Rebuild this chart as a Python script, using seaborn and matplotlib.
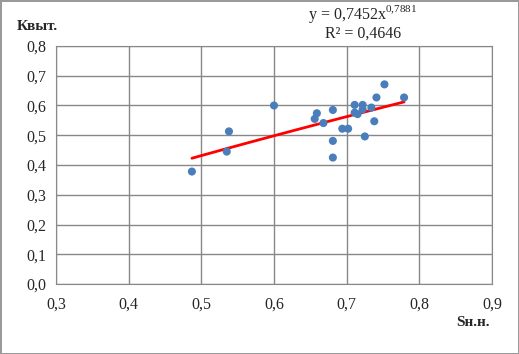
import numpy as np
import pandas as pd
import matplotlib.pyplot as plt
import seaborn as sns
from matplotlib.ticker import FuncFormatter, MultipleLocator

# data
s_nn = [0.487, 0.535, 0.538, 0.600, 0.659, 0.656, 0.668, 0.681, 0.681, 0.681,
        0.694, 0.702, 0.711, 0.711, 0.715, 0.722, 0.722, 0.725, 0.734, 0.738,
        0.741, 0.752, 0.779]
k_vyt = [0.378, 0.445, 0.513, 0.600, 0.574, 0.555, 0.541, 0.585, 0.481, 0.425,
         0.522, 0.522, 0.602, 0.576, 0.571, 0.602, 0.587, 0.496, 0.593, 0.547,
         0.627, 0.671, 0.627]
coef_a = 0.7452
coef_b = 0.7881

df = pd.DataFrame({'x': s_nn, 'y': k_vyt})
xt = np.linspace(min(s_nn), max(s_nn), 50)
trend = pd.DataFrame({'x': xt, 'y': coef_a * xt ** coef_b})

sns.set_style('white')
plt.rcParams['font.family'] = ['Liberation Serif', 'DejaVu Serif']
plt.rcParams['mathtext.fontset'] = 'custom'
plt.rcParams['mathtext.rm'] = 'Liberation Serif'

fig = plt.figure(figsize=(5.19, 3.54), dpi=100)
fig.patch.set_edgecolor('#9a9a9a')
fig.patch.set_linewidth(2)
ax = fig.add_axes([56 / 519, 1 - 284 / 354, (492 - 56) / 519, (284 - 46) / 354])

sns.lineplot(data=trend, x='x', y='y', color='#ff0000', linewidth=2, ax=ax)
sns.scatterplot(data=df, x='x', y='y', color='#4a7ebb', s=34, edgecolor='none', ax=ax, zorder=3)

ax.set_xlim(0.3, 0.9)
ax.set_ylim(0.0, 0.8)
ax.xaxis.set_major_locator(MultipleLocator(0.1))
ax.yaxis.set_major_locator(MultipleLocator(0.1))
fmt = FuncFormatter(lambda v, p: f'{v:.1f}'.replace('.', ','))
ax.xaxis.set_major_formatter(fmt)
ax.yaxis.set_major_formatter(fmt)
ax.grid(True, color='#888888', linewidth=1)
for sp in ax.spines.values():
    sp.set_color('#888888')
ax.tick_params(direction='out', length=4, color='#888888', labelsize=11.5, pad=3)
ax.tick_params(axis='x', pad=5)
ax.set_xlabel('')
ax.set_ylabel('')

fig.text(17 / 519, 1 - 26 / 354, 'Квыт.', fontsize=11, fontweight='bold', va='center')
fig.text(490 / 519, 1 - 322 / 354, 'Sн.н.', fontsize=11, fontweight='bold', va='center', ha='right')
fig.text(363 / 519, 1 - 14 / 354, r'y = 0,7452x$^{0{,}7881}$', fontsize=11.5, ha='center', va='center')
fig.text(363 / 519, 1 - 34 / 354, 'R² = 0,4646', fontsize=11.5, ha='center', va='center')

fig.savefig('out.png', dpi=100)
